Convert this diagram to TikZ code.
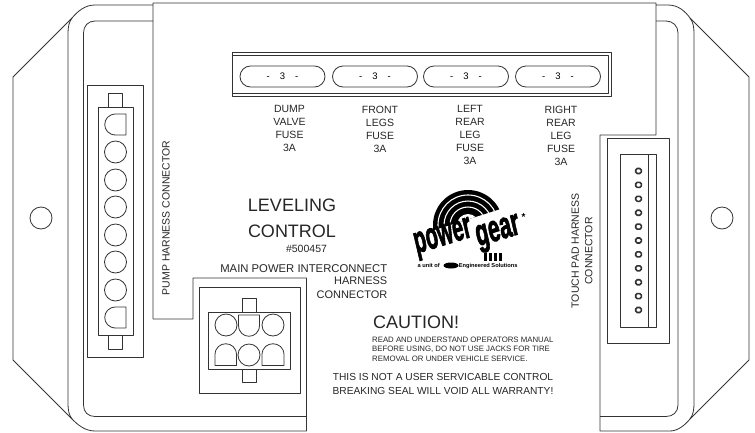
\documentclass[tikz,border=0pt]{standalone}
\usepackage{fontspec}
\setmainfont{Liberation Sans}
\newfontfamily\logofont[FakeBold=2.5,FakeSlant=0.12]{Liberation Sans Bold}
\usetikzlibrary{calc}
\usetikzlibrary{positioning}
\usetikzlibrary{shapes.geometric}
\usetikzlibrary{shapes.misc}

\definecolor{inkline}{gray}{0.2}

\tikzset{
  outline/.style={draw=inkline,line width=0.8pt,line join=round},
  hole/.style={outline,circle,minimum size=22pt,inner sep=0pt},
  fuseholder/.style={outline,rounded rectangle,minimum width=85pt,minimum height=21pt,inner sep=0pt,font=\fontsize{9.5}{11}\selectfont},
  smallpin/.style={draw=inkline,line width=1.6pt,rounded corners=1.5pt,minimum width=5.6pt,minimum height=5pt,inner sep=0pt},
  lab/.style={inner sep=0pt,text=black!85,align=center},
  fuselab/.style={lab,anchor=north,font=\fontsize{10.5}{13}\selectfont},
  headlab/.style={lab,font=\fontsize{18}{26}\selectfont},
  logolab/.style={lab,rotate=17,text=black,font=\fontsize{25}{25}\logofont,transform shape}
}

\begin{document}
\begin{tikzpicture}[x=1pt,y=-1pt]

  \useasboundingbox (0,0) rectangle (755,432);

  \path [outline]
    (153,319) -- (153,3) -- (656,3) -- (656,135) -- (600,135) -- (600,431) -- (670,431)
    .. controls (678,431) and (685,425) .. (690,419) -- (749,360) -- (749,77) -- (690,18)
    .. controls (685,11) and (678,5) .. (668,5) -- (656,5);
  \path [outline]
    (153,319) -- (193,319) -- (193,278) -- (306.5,278) -- (306.5,431) -- (95,431)
    .. controls (85,431) and (78,425) .. (72,419) -- (13,360) -- (13,77) -- (72,18)
    .. controls (78,11) and (85,5) .. (95,5) -- (153,5);

  \path [outline]
    (72,18) .. controls (69,22) and (68,27) .. (68,33) -- (68,404) .. controls (68,410) and (69,415) .. (72,419);
  \path [outline]
    (690,18) .. controls (693,22) and (694,27) .. (694,33) -- (694,404) .. controls (694,410) and (693,415) .. (690,419);
  \path [outline]
    (153,21) -- (95,21) .. controls (88,21) and (83.5,26) .. (83.5,33) -- (83.5,405)
    .. controls (83.5,412) and (88,416.5) .. (95,416.5) -- (306.5,416.5);
  \path [outline]
    (656,21) -- (666,21) .. controls (673,21) and (678,26) .. (678,33) -- (678,405)
    .. controls (678,412) and (673,416.5) .. (666,416.5) -- (600,416.5);

  \node [hole] (lefthole) at (41,218) {};
  \node [hole] (righthole) at (722,218) {};

  \draw [outline] (87.5,85.5) rectangle (143.5,357);
  \draw [outline] (98,107) rectangle (133,335);
  \draw [outline] (108,107) -- (108,93) -- (122.5,93) -- (122.5,107);
  \draw [outline] (108,335) -- (108,349) -- (122.5,349) -- (122.5,335);
  \path [outline] (126,114) -- (126,135) -- (116,135) .. controls (101,135) and (101,114) .. (116,114) -- cycle;
  \path [outline] (126,307) -- (126,328) -- (116,328) .. controls (101,328) and (101,307) .. (116,307) -- cycle;
  \foreach \y in {152,180,207,235,262,290}
    \node [hole] (pump\y) at (115.5,\y) {};

  \draw [outline] (199,287) rectangle (300,393);
  \draw [outline] (208,312) rectangle (290,369);
  \draw [outline] (242,312) -- (242,298) -- (256,298) -- (256,312);
  \draw [outline] (242,369) -- (242,382) -- (256,382) -- (256,369);
  \node [hole] (main1) at (226,325) {};
  \node [hole] (main3) at (273,325) {};
  \node [hole] (main5) at (249,355) {};
  \path [outline] (238.5,315) -- (259.5,315) -- (259.5,325) .. controls (259.5,340) and (238.5,340) .. (238.5,325) -- cycle;
  \path [outline] (215,365.5) -- (236.5,365.5) -- (236.5,355) .. controls (236.5,340) and (215,340) .. (215,355) -- cycle;
  \path [outline] (262,365.5) -- (284,365.5) -- (284,355) .. controls (284,340) and (262,340) .. (262,355) -- cycle;

  \draw [outline] (232,52) rectangle (611,96);
  \draw [outline] (232,55) -- (608,55) -- (608,93) -- (232,93);
  \foreach \x/\nm in {282.5/dump,375/front,466/left,558/right}
    \node [fuseholder] (\nm) at (\x,76.5) {-\hspace{10pt}3\hspace{10pt}-};

  \node [fuselab] (dumplab) at (289.5,105.5) {DUMP\\VALVE\\FUSE\\3A};
  \node [fuselab] (frontlab) at (380,105.5) {FRONT\\LEGS\\FUSE\\3A};
  \node [fuselab] (leftlab) at (470,105.5) {LEFT\\REAR\\LEG\\FUSE\\3A};
  \node [fuselab] (rightlab) at (561,105.5) {RIGHT\\REAR\\LEG\\FUSE\\3A};

  \draw [outline] (607.5,138) rectangle (669,343);
  \draw [outline] (620,154) rectangle (656,327);
  \draw [outline] (648.5,154) -- (648.5,327);
  \foreach \i in {0,...,10}
    \node [smallpin] (touch\i) at (638.5,171+13.9*\i) {};

  \node [lab,rotate=90,font=\fontsize{10.5}{12}\selectfont] (pumplab) at (166,218) {PUMP HARNESS CONNECTOR};
  \node [lab,rotate=90,font=\fontsize{10.5}{13.5}\selectfont] (touchlab) at (582,251) {TOUCH PAD HARNESS\\CONNECTOR};

  \node [headlab] (levellab) at (292,218) {LEVELING\\CONTROL};
  \node [lab,font=\fontsize{10.5}{12}\selectfont] (partlab) at (306.5,249) {\#500457};
  \node [lab,anchor=east,font=\fontsize{11.3}{14}\selectfont] (mainlab) at (387.5,269) {MAIN POWER INTERCONNECT};
  \node [lab,anchor=north east,align=right,font=\fontsize{11}{14}\selectfont] (harnesslab) at (387.5,277) {HARNESS\\CONNECTOR};

  \begin{scope}
    \clip (425,190) -- (425,233) -- (510,206) -- (510,190) -- (500,180) -- (440,180) -- cycle;
    \fill [black] (468,225) circle (35);
    \draw [white,line width=1.1pt] (468,225) circle (30);
    \draw [white,line width=1.1pt] (468,225) circle (24);
    \draw [white,line width=1.1pt] (468,225) circle (18);
    \fill [white] (468,225) circle (11);
  \end{scope}
  \node [logolab,xscale=0.8,yscale=1.5] (powerlab) at (443,239) {power};
  \node [logolab,xscale=0.85,yscale=1.5] (gearlab) at (498,234) {gear};
  \foreach \x in {484,489,494,499}
    \fill [black] (\x,253) rectangle (\x+3,261);
  \node [lab,text=black,font=\fontsize{5.7}{6}\selectfont\bfseries] (unitlab) at (467.5,266) {a unit of \hspace{16pt} Engineered Solutions};
  \node [fill=black,ellipse,minimum width=15pt,minimum height=6pt,inner sep=0pt] (unitblob) at (451,265.5) {};
  \node [lab,text=black,font=\fontsize{10}{10}\selectfont\bfseries] (regmark) at (523.5,217) {*};

  \node [headlab,anchor=west] (cautionlab) at (373,322) {CAUTION!};
  \node [lab,anchor=north west,align=left,font=\fontsize{7.8}{9.6}\selectfont] (warnlab) at (372,336.5) {READ AND UNDERSTAND OPERATORS MANUAL\\BEFORE USING, DO NOT USE JACKS FOR TIRE\\REMOVAL OR UNDER VEHICLE SERVICE.};
  \node [lab,anchor=north,font=\fontsize{10.2}{14}\selectfont] (seallab) at (443,373.5) {THIS IS NOT A USER SERVICABLE CONTROL\\BREAKING SEAL WILL VOID ALL WARRANTY!};

\end{tikzpicture}
\end{document}
